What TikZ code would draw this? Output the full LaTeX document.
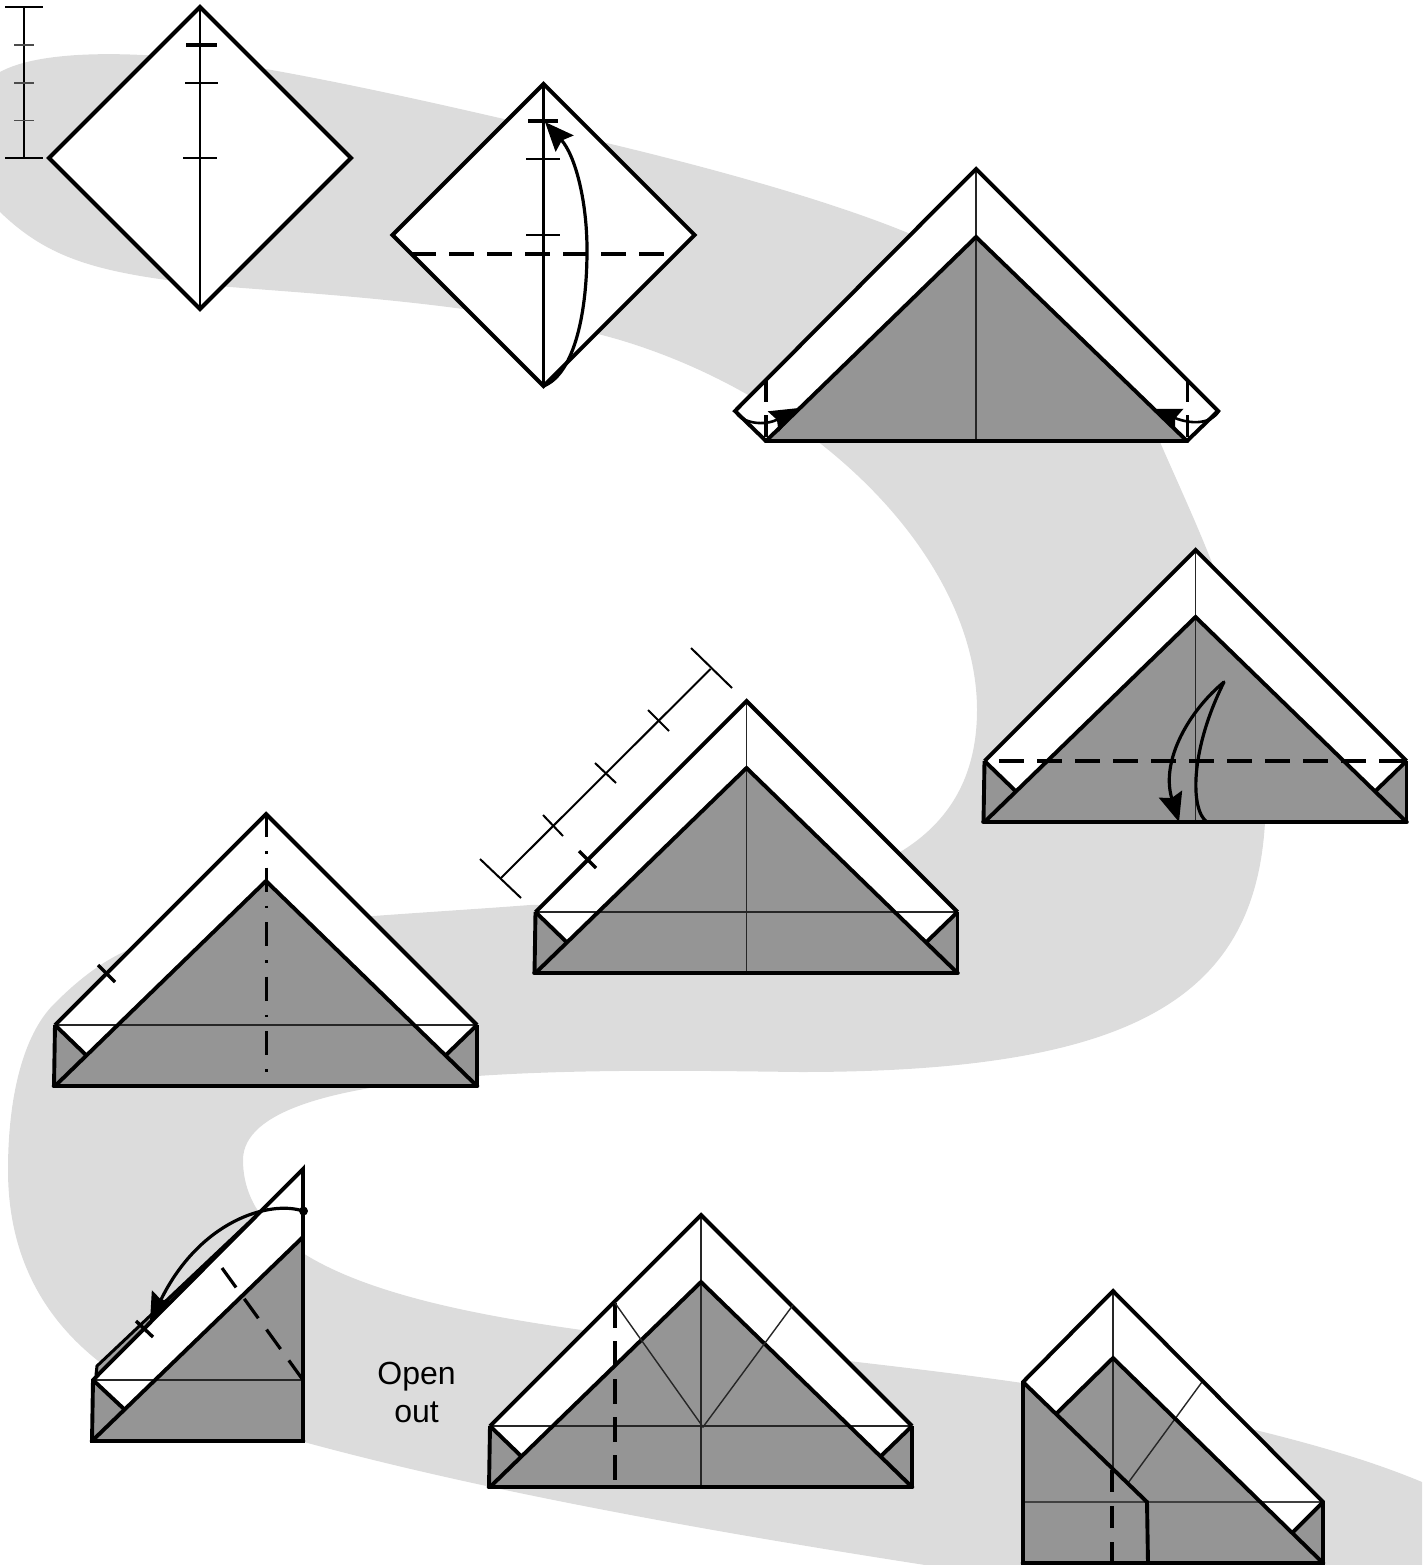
\documentclass[tikz,border=0pt]{standalone}
\usepackage{fontspec}
\setmainfont{Liberation Sans}
\usetikzlibrary{arrows.meta}
\definecolor{ribbon}{HTML}{DCDCDC}
\definecolor{paper}{HTML}{959595}
\tikzset{
  edge/.style={line width=3.9pt,line join=miter,black},
  baseedge/.style={line width=4.6pt,line cap=round,black},
  crease/.style={line width=1.4pt,black!85},
  finetick/.style={line width=1.5pt,black},
  marktick/.style={line width=3.4pt,black},
  valley/.style={line width=3.6pt,dash pattern=on 25pt off 13pt},
  mountain/.style={line width=3pt,dash pattern=on 24pt off 14pt on 2.5pt off 14pt},
  motion/.style={line width=3.2pt,line cap=round},
  head/.style={line width=3.2pt,-{Stealth[length=29pt,width=24pt,inset=4pt]}},
  smallhead/.style={line width=2.6pt,-{Stealth[length=29pt,width=23pt,inset=4pt]}}
}
% #1,#2 = apex; #3 = draw centre crease (0/1); #4 = draw cross crease (0/1)
\newcommand{\flatbase}[4]{%
 \begin{scope}[shift={(#1,#2)}]
  \fill[white] (0,0)--(211,211)--(211,272)--(-211,272)--(-211,211)--cycle;
  \fill[paper] (0,67)--(211,272)--(-211,272)--cycle;
  \fill[paper] (-211,211)--(-180,241)--(-211,272)--cycle;
  \fill[paper] (211,211)--(180,241)--(211,272)--cycle;
  \ifnum#3=1 \draw[crease] (0,0)--(0,272);\fi
  \ifnum#4=1 \draw[crease] (-211,211)--(211,211);\fi
  \draw[edge] (-211,211)--(0,0)--(211,211);
  \draw[edge] (-211,272)--(0,67)--(211,272);
  \draw[edge] (-211,211)--(-180,241);
  \draw[edge] (211,211)--(180,241);
  \draw[edge] (-212,272)--(-211,211);
  \draw[edge] (211,211)--(211,272);
  \draw[baseedge] (-212,272)--(211,272);
 \end{scope}}
\begin{document}
\begin{tikzpicture}[x=1pt,y=-1pt]
\useasboundingbox (0,0) rectangle (1422,1565);
% ribbon
\fill[ribbon] (0,72)
  .. controls (40,50) and (130,50) .. (230,63)
  .. controls (350,82) and (500,118) .. (615,145)
  .. controls (760,180) and (860,212) .. (920,238)
  .. controls (1040,295) and (1120,350) .. (1160,442)
  .. controls (1200,535) and (1270,670) .. (1265,822)
  .. controls (1255,1000) and (1130,1072) .. (800,1072)
  .. controls (620,1070) and (243,1060) .. (243,1160)
  .. controls (243,1270) and (420,1310) .. (620,1335)
  .. controls (850,1362) and (1050,1380) .. (1180,1412)
  .. controls (1270,1433) and (1350,1452) .. (1422,1482)
  -- (1422,1565) -- (925,1565)
  .. controls (700,1530) and (480,1490) .. (304,1442)
  .. controls (200,1425) and (8,1370) .. (8,1170)
  .. controls (8,1100) and (22,1035) .. (55,1003)
  .. controls (75,983) and (100,962) .. (128,950)
  .. controls (180,925) and (400,915) .. (530,905)
  .. controls (700,900) and (977,920) .. (977,710)
  .. controls (977,560) and (820,400) .. (620,340)
  .. controls (500,305) and (330,295) .. (230,287)
  .. controls (100,275) and (50,260) .. (0,212)
  -- cycle;
% step 1: square with centre crease
\coordinate (a1) at (200,7); \coordinate (a2) at (351,158);
\coordinate (a3) at (200,309); \coordinate (a4) at (49,158);
\filldraw[edge,fill=white] (a1)--(a2)--(a3)--(a4)--cycle;
\draw[line width=2.5pt] (a1)--(a3);
\draw[marktick] (186,45)--(217,45);
\draw[line width=2.4pt] (185,83)--(218,83);
\draw[line width=2.2pt] (183,158)--(217,158);
\draw[finetick] (24,7)--(24,158);
\draw[finetick] (5,7)--(43,7) (5,158)--(43,158);
\draw[finetick,black!70] (14,45)--(34,45) (14,83)--(34,83) (14,120.5)--(34,120.5);
% step 2
\coordinate (b1) at (543.5,84); \coordinate (b2) at (694.5,235);
\coordinate (b3) at (543.5,386); \coordinate (b4) at (392.5,235);
\filldraw[edge,fill=white] (b1)--(b2)--(b3)--(b4)--cycle;
\draw[line width=2.5pt] (b1)--(b3);
\draw[marktick] (528,121)--(558,121);
\draw[line width=2.4pt] (526,159)--(560,159);
\draw[line width=2.2pt] (526,235)--(560,235);
\draw[valley] (411,254)--(675,254);
\draw[head] (543.5,386) .. controls (572,375) and (587,320) .. (587,250) .. controls (587,200) and (575,155) .. (545,122);
% step 3
\coordinate (c1) at (976,169); \coordinate (c2) at (1218,411);
\coordinate (c3) at (1187,441); \coordinate (c4) at (766,441);
\coordinate (c5) at (735,411); \coordinate (c6) at (976,237);
\fill[white] (c1)--(c2)--(c3)--(c4)--(c5)--cycle;
\fill[paper] (c6)--(c3)--(c4)--cycle;
\draw[crease] (c1)--(976,441);
\draw[edge] (c1)--(c2)--(c3)--(c4)--(c5)--cycle;
\draw[edge] (c4)--(c6)--(c3);
\draw[baseedge] (c4)--(c3);
\draw[line width=3.2pt,dash pattern=on 22pt off 13pt] (766,380)--(766,441);
\draw[line width=3.2pt,dash pattern=on 22pt off 13pt] (1187.5,380)--(1187.5,441);
\draw[smallhead] (735,411) .. controls (742,424) and (765,426) .. (799,408);
\draw[smallhead] (1219,411) .. controls (1210,425) and (1190,424) .. (1152,409);
% folded bases
\flatbase{1195.5}{550}{1}{0}
\flatbase{746.5}{701}{1}{1}
\flatbase{266}{814}{0}{1}
\flatbase{701}{1215}{1}{1}
% step 4 marks
\draw[valley] (999,761)--(1407,761);
\draw[motion] (1207,822) .. controls (1190,810) and (1190,750) .. (1224,682);
\draw[head] (1224,682) .. controls (1190,710) and (1160,760) .. (1179,822);
% step 5 ruler
\coordinate (r1) at (710.5,669); \coordinate (r2) at (501,878);
\draw[line width=2pt] (r1)--(r2);
\draw[line width=2pt] (691,648)--(732,688) (480,859)--(521,898)
  (648,710)--(669,731) (595,763)--(616,783) (543,815)--(563,836);
\draw[marktick] (579,851)--(596,868);
% step 6
\draw[marktick] (98,965)--(115,982);
\draw[mountain] (266,813)--(266,1072);
% step 7
\coordinate (d1) at (303,1169); \coordinate (d2) at (303,1441);
\coordinate (d3) at (92,1441); \coordinate (d4) at (93,1380);
\coordinate (d5) at (303,1237); \coordinate (d6) at (124,1409);
\fill[paper!90!white] (97,1366)--(260,1212)--(262,1214)--(97,1380)--cycle;
\draw[line width=3pt] (96,1375)--(97,1366)--(260,1212);
\fill[white] (d4)--(d1)--(d5)--(d6)--cycle;
\fill[paper] (d5)--(d2)--(d3)--cycle;
\fill[paper] (d4)--(d6)--(d3)--cycle;
\draw[crease] (d4)--(303,1380);
\draw[edge] (d4)--(d1)--(d2)--(d3)--cycle;
\draw[edge] (d3)--(d5);
\draw[edge] (d4)--(d6);
\draw[baseedge] (d3)--(d2);
\draw[line width=3.2pt,dash pattern=on 24pt off 14pt] (222,1268)--(303,1380);
\draw[marktick] (136,1321)--(153,1337);
\draw[line width=2.4pt] (260,1212) .. controls (225,1245) and (190,1280) .. (157,1310);
\draw[head] (303,1211) .. controls (270,1200) and (200,1220) .. (150,1322);
\fill (303.5,1211) circle (4.5);
% step 8
\draw[valley] (615,1303)--(615,1488);
\draw[crease] (615,1303)--(703,1427)--(793,1305);
\node[font=\fontsize{32}{38}\selectfont,align=center] (openout) at (416.5,1392) {Open\\out};
% step 9
\coordinate (e1) at (1113,1291); \coordinate (e2) at (1323,1502);
\coordinate (e3) at (1323,1563); \coordinate (e4) at (1023,1563);
\coordinate (e5) at (1023,1382); \coordinate (e6) at (1113,1358);
\coordinate (e7) at (1293,1532); \coordinate (e8) at (1147,1502);
\coordinate (e9) at (1148,1563); \coordinate (e10) at (1057,1413);
\fill[white] (e1)--(e2)--(e3)--(e4)--(e5)--cycle;
\fill[paper] (e6)--(e3)--(e4)--(e5)--(e10)--cycle;
\fill[paper] (e2)--(e7)--(e3)--cycle;
\draw[crease] (e1)--(1113,1470);
\draw[line width=1.6pt,black!75] (e5 |- e2)--(e2);
\draw[crease] (1202,1382)--(1128,1483);
\draw[edge] (e5)--(e1)--(e2)--(e3)--(e4)--cycle;
\draw[edge] (e10)--(e6)--(e3);
\draw[edge] (e5)--(e8)--(e9);
\draw[edge] (e2)--(e7);
\draw[baseedge] (e4)--(e3);
\draw[line width=3.2pt,dash pattern=on 22pt off 14pt] (1112,1470)--(1112,1563);
\end{tikzpicture}
\end{document}
